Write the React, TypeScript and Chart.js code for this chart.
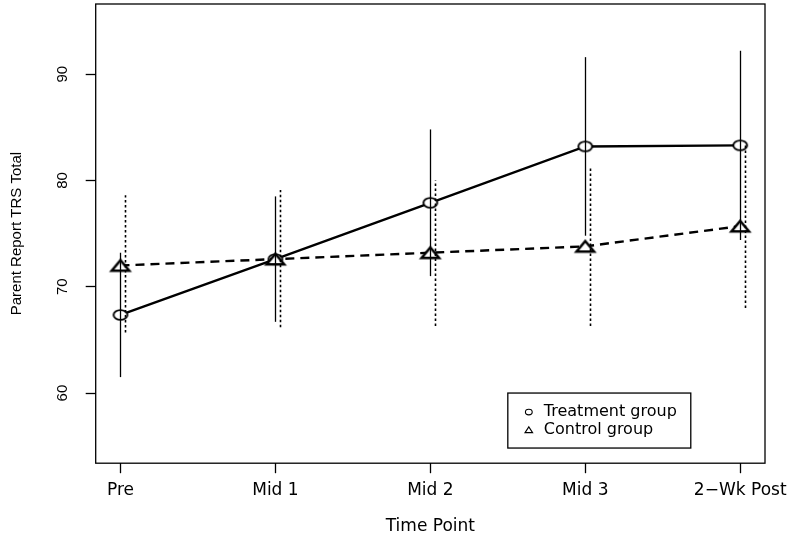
import React, { useEffect, useRef } from "react";
import { Chart, registerables } from "chart.js";

Chart.register(...registerables);

// ---- data ----
const categories = ["Pre", "Mid 1", "Mid 2", "Mid 3", "2−Wk Post"];
const xPositions = [1, 2, 3, 4, 5];
const yTicks = [60, 70, 80, 90];
const seriesNames = ["Treatment group", "Control group"];
const treatmentMean = [67.35, 72.6, 77.9, 83.2, 83.3];
const treatmentLower = [61.5, 66.7, 71.0, 74.8, 74.4];
const treatmentUpper = [73.2, 78.5, 84.8, 91.6, 92.2];
const controlMean = [72.0, 72.6, 73.2, 73.8, 75.7];
const controlLower = [65.7, 66.2, 66.3, 66.3, 68.0];
const controlUpper = [78.6, 79.1, 80.0, 81.2, 83.4];
const controlBarShift = 0.03;
const legendAnchor = { x: 3.5, y: 60 };

const H_FONT = "'DejaVu Sans', sans-serif";
const V_FONT = "'Liberation Sans', Arial, sans-serif";

function makeEllipse(w: number, h: number, rx: number, ry: number, lw: number) {
  const c = document.createElement("canvas");
  c.width = w;
  c.height = h;
  const ctx = c.getContext("2d")!;
  ctx.lineWidth = lw;
  ctx.strokeStyle = "#000";
  ctx.fillStyle = "#fff";
  ctx.beginPath();
  ctx.ellipse(w / 2, h / 2, rx, ry, 0, 0, Math.PI * 2);
  ctx.fill();
  ctx.stroke();
  return c;
}

function makeTriangle(w: number, h: number, halfW: number, tH: number, lw: number) {
  const c = document.createElement("canvas");
  c.width = w;
  c.height = h;
  const ctx = c.getContext("2d")!;
  ctx.lineWidth = lw;
  ctx.strokeStyle = "#000";
  ctx.fillStyle = "#fff";
  ctx.lineJoin = "miter";
  const cx = w / 2;
  const top = h / 2 - tH / 2;
  const bot = h / 2 + tH / 2;
  ctx.beginPath();
  ctx.moveTo(cx, top);
  ctx.lineTo(cx + halfW, bot);
  ctx.lineTo(cx - halfW, bot);
  ctx.closePath();
  ctx.fill();
  ctx.stroke();
  return c;
}

const boxPlugin = {
  id: "rbox",
  afterDraw(chart: any) {
    const { ctx, chartArea } = chart;
    ctx.save();
    ctx.strokeStyle = "#000";
    ctx.lineWidth = 1.3;
    ctx.strokeRect(chartArea.left, chartArea.top, chartArea.right - chartArea.left, chartArea.bottom - chartArea.top);
    ctx.restore();
  },
};

const errorBarPlugin = {
  id: "errorBars",
  afterDatasetsDraw(chart: any) {
    const { ctx } = chart;
    const xs = chart.scales.x;
    const ys = chart.scales.y;
    ctx.save();
    ctx.strokeStyle = "#000";
    xPositions.forEach((xv, i) => {
      let px = Math.round(xs.getPixelForValue(xv)) + 0.5;
      ctx.setLineDash([]);
      ctx.lineWidth = 1.3;
      ctx.beginPath();
      ctx.moveTo(px, ys.getPixelForValue(treatmentLower[i]));
      ctx.lineTo(px, ys.getPixelForValue(treatmentUpper[i]));
      ctx.stroke();
      px = Math.round(xs.getPixelForValue(xv + controlBarShift)) + 0.5;
      ctx.setLineDash([2.5, 2.5]);
      ctx.lineWidth = 1.6;
      ctx.beginPath();
      ctx.moveTo(px, ys.getPixelForValue(controlLower[i]));
      ctx.lineTo(px, ys.getPixelForValue(controlUpper[i]));
      ctx.stroke();
    });
    ctx.restore();
  },
};

const legendPlugin = {
  id: "rlegend",
  afterDraw(chart: any) {
    const { ctx } = chart;
    const left = chart.scales.x.getPixelForValue(legendAnchor.x);
    const top = chart.scales.y.getPixelForValue(legendAnchor.y);
    ctx.save();
    ctx.font = `16px ${H_FONT}`;
    const tw = Math.max(...seriesNames.map((s) => ctx.measureText(s).width));
    const w = 36 + tw + 14;
    const h = 55;
    ctx.fillStyle = "#fff";
    ctx.fillRect(left, top, w, h);
    ctx.strokeStyle = "#000";
    ctx.lineWidth = 1.3;
    ctx.strokeRect(left, top, w, h);
    const sx = left + 21;
    const y1 = top + 19;
    const y2 = top + 37;
    ctx.lineWidth = 1.1;
    ctx.beginPath();
    ctx.ellipse(sx, y1, 3.4, 2.8, 0, 0, Math.PI * 2);
    ctx.stroke();
    ctx.beginPath();
    ctx.moveTo(sx, y2 - 3.2);
    ctx.lineTo(sx + 3.8, y2 + 2.6);
    ctx.lineTo(sx - 3.8, y2 + 2.6);
    ctx.closePath();
    ctx.stroke();
    ctx.fillStyle = "#000";
    ctx.textBaseline = "middle";
    ctx.textAlign = "left";
    ctx.fillText(seriesNames[0], left + 36, y1);
    ctx.fillText(seriesNames[1], left + 36, y2);
    ctx.restore();
  },
};

export default function App() {
  const ref = useRef<HTMLCanvasElement | null>(null);
  useEffect(() => {
    if (!ref.current) return;
    const circleImg = makeEllipse(18, 14, 6.9, 4.9, 1.9);
    const triImg = makeTriangle(26, 20, 8.8, 10.6, 2.5);
    const chart = new Chart(ref.current, {
      type: "line",
      data: {
        datasets: [
          {
            label: seriesNames[0],
            data: xPositions.map((x, i) => ({ x, y: treatmentMean[i] })),
            borderColor: "#000",
            borderWidth: 2.4,
            tension: 0,
            fill: false,
            pointStyle: circleImg as any,
            pointRadius: 6,
            order: 1,
          },
          {
            label: seriesNames[1],
            data: xPositions.map((x, i) => ({ x, y: controlMean[i] })),
            borderColor: "#000",
            borderWidth: 2.4,
            borderDash: [9, 6],
            tension: 0,
            fill: false,
            pointStyle: triImg as any,
            pointRadius: 8,
            order: 0,
          },
        ],
      },
      options: {
        animation: false,
        responsive: false,
        devicePixelRatio: 1,
        events: [],
        layout: { autoPadding: false, padding: { left: 2, right: 35, top: 4, bottom: 4 } },
        plugins: { legend: { display: false }, tooltip: { enabled: false } },
        scales: {
          x: {
            type: "linear",
            min: 0.84,
            max: 5.16,
            afterBuildTicks: (axis: any) => {
              axis.ticks = xPositions.map((v) => ({ value: v }));
            },
            afterFit: (axis: any) => {
              axis.paddingLeft = 0;
              axis.paddingRight = 0;
            },
            ticks: {
              callback: (v: any) => categories[xPositions.indexOf(Number(v))] ?? "",
              color: "#000",
              font: { family: H_FONT, size: 17 },
              padding: 7,
              maxRotation: 0,
              minRotation: 0,
              autoSkip: false,
            },
            grid: { display: true, drawOnChartArea: false, drawTicks: true, tickLength: 10, tickColor: "#000", tickWidth: 1.3 },
            border: { display: false },
            title: { display: true, text: "Time Point", color: "#000", font: { family: H_FONT, size: 17 }, padding: { top: 9, bottom: 0 } },
          },
          y: {
            type: "linear",
            min: 53.4,
            max: 96.6,
            afterBuildTicks: (axis: any) => {
              axis.ticks = yTicks.map((v) => ({ value: v }));
            },
            afterFit: (axis: any) => {
              axis.paddingTop = 0;
              axis.paddingBottom = 0;
            },
            ticks: {
              color: "#000",
              font: { family: V_FONT, size: 15 },
              padding: 14.7,
              minRotation: 90,
              maxRotation: 90,
              crossAlign: "center",
              autoSkip: false,
            },
            grid: { display: true, drawOnChartArea: false, drawTicks: true, tickLength: 10, tickColor: "#000", tickWidth: 1.3 },
            border: { display: false },
            title: { display: true, text: "Parent Report TRS Total", color: "#000", font: { family: V_FONT, size: 15 }, padding: { top: 6, bottom: 12.3 } },
          },
        },
      },
      plugins: [errorBarPlugin, boxPlugin, legendPlugin],
    } as any);
    return () => chart.destroy();
  }, []);
  return (
    <div style={{ position: "absolute", left: 0, top: 0, width: 800, height: 541, background: "#fff" }}>
      <canvas ref={ref} width={800} height={541} />
    </div>
  );
}
